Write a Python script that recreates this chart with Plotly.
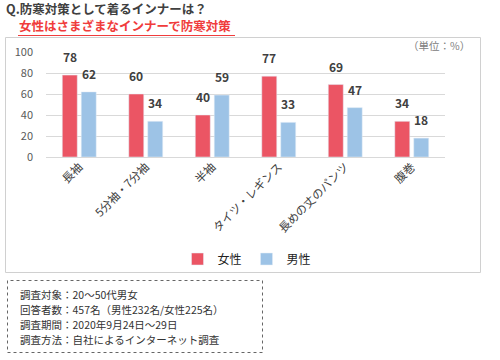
import plotly.graph_objects as go

categories = ["長袖", "5分袖・7分袖", "半袖", "タイツ・レギンス", "長めの丈のパンツ", "腹巻"]
female = [78, 60, 40, 77, 69, 34]
male = [62, 34, 59, 33, 47, 18]
series_names = ["女性", "男性"]
y_ticks = [0, 20, 40, 60, 80, 100]

title_text = "Q.防寒対策として着るインナーは？"
subtitle_text = "女性はさまざまなインナーで防寒対策"
unit_text = "（単位：%）"
info_lines = [
    "調査対象：20～50代男女",
    "回答者数：457名（男性232名/女性225名）",
    "調査期間：2020年9月24日～29日",
    "調査方法：自社によるインターネット調査",
]

RED = "#EB5564"
BLUE = "#9DC3E6"
FONT = "Noto Sans CJK JP"

W, H = 500, 360
L, R, T, B = 46, 55, 52, 203
PW = W - L - R
PH = H - T - B


def px_x(p):
    return (p - L) / PW


def px_y(p):
    return (H - B - p) / PH


fig = go.Figure()
fig.add_trace(go.Bar(x=categories, y=female, name=series_names[0], marker_color=RED))
fig.add_trace(go.Bar(x=categories, y=male, name=series_names[1], marker_color=BLUE))

annotations = []
for cat, v in zip(categories, female):
    annotations.append(dict(x=cat, y=v, xref="x", yref="y", text=f"<b>{v}</b>", showarrow=False,
                            xshift=-9.5, yshift=8, yanchor="bottom",
                            font=dict(size=12, color="#404040", family=FONT)))
for cat, v in zip(categories, male):
    annotations.append(dict(x=cat, y=v, xref="x", yref="y", text=f"<b>{v}</b>", showarrow=False,
                            xshift=9.5, yshift=8, yanchor="bottom",
                            font=dict(size=12, color="#404040", family=FONT)))

annotations += [
    dict(x=px_x(4), y=px_y(8.5), xref="paper", yref="paper", text=f"<b>{title_text}</b>",
         showarrow=False, xanchor="left", yanchor="middle",
         font=dict(size=12.5, color="#404040", family=FONT)),
    dict(x=px_x(17), y=px_y(25.5), xref="paper", yref="paper", text=f"<b>{subtitle_text}</b>",
         showarrow=False, xanchor="left", yanchor="middle",
         font=dict(size=12.5, color="#F03C3C", family=FONT)),
    dict(x=px_x(472), y=px_y(45), xref="paper", yref="paper", text=unit_text,
         showarrow=False, xanchor="right", yanchor="middle",
         font=dict(size=10.5, color="#808080", family=FONT)),
]
info_y = [294, 309.2, 324.4, 339.6]
for line, yy in zip(info_lines, info_y):
    annotations.append(dict(x=px_x(19), y=px_y(yy), xref="paper", yref="paper", text=line,
                            showarrow=False, xanchor="left", yanchor="middle", align="left",
                            borderpad=0, font=dict(size=10.5, color="#333333", family=FONT)))

shapes = [
    # subtitle underline
    dict(type="line", xref="paper", yref="paper", x0=px_x(18), x1=px_x(235), y0=px_y(35.5), y1=px_y(35.5),
         line=dict(color="#F03C3C", width=1)),
    # outer chart box
    dict(type="rect", xref="paper", yref="paper", x0=px_x(5.5), x1=px_x(480.5), y0=px_y(272.5), y1=px_y(37.5),
         line=dict(color="#D0D0D0", width=1)),
    # info box
    dict(type="rect", xref="paper", yref="paper", x0=px_x(7.5), x1=px_x(262.5), y0=px_y(352.5), y1=px_y(280.5),
         line=dict(color="#666666", width=1, dash="dot")),
]

fig.update_layout(
    width=W, height=H,
    margin=dict(l=L, r=R, t=T, b=B, autoexpand=False),
    paper_bgcolor="white", plot_bgcolor="white",
    barmode="group", bargap=0.43, bargroupgap=0.21,
    font=dict(family=FONT, color="#404040"),
    showlegend=True,
    legend=dict(orientation="h", x=px_x(247), xanchor="center", y=px_y(259), yanchor="middle",
                font=dict(size=12, color="#222222", family=FONT), itemwidth=30,
                tracegroupgap=0, bgcolor="rgba(0,0,0,0)"),
    annotations=annotations,
    shapes=shapes,
)
fig.update_xaxes(showgrid=False, showline=False, tickangle=-45, ticks="", automargin=False,
                 tickfont=dict(size=11.5, color="#404040", family=FONT), fixedrange=True)
fig.update_yaxes(range=[0, 100], tickvals=y_ticks, showgrid=True, gridcolor="#D9D9D9", gridwidth=1,
                 zeroline=True, zerolinecolor="#D9D9D9", zerolinewidth=1, showline=False, ticks="",
                 automargin=False, ticklabelstandoff=12,
                 tickfont=dict(size=11, color="#595959", family=FONT), fixedrange=True)

fig.write_html("out.html", config={"displayModeBar": False},
               post_script="document.body.style.margin='0px';")
